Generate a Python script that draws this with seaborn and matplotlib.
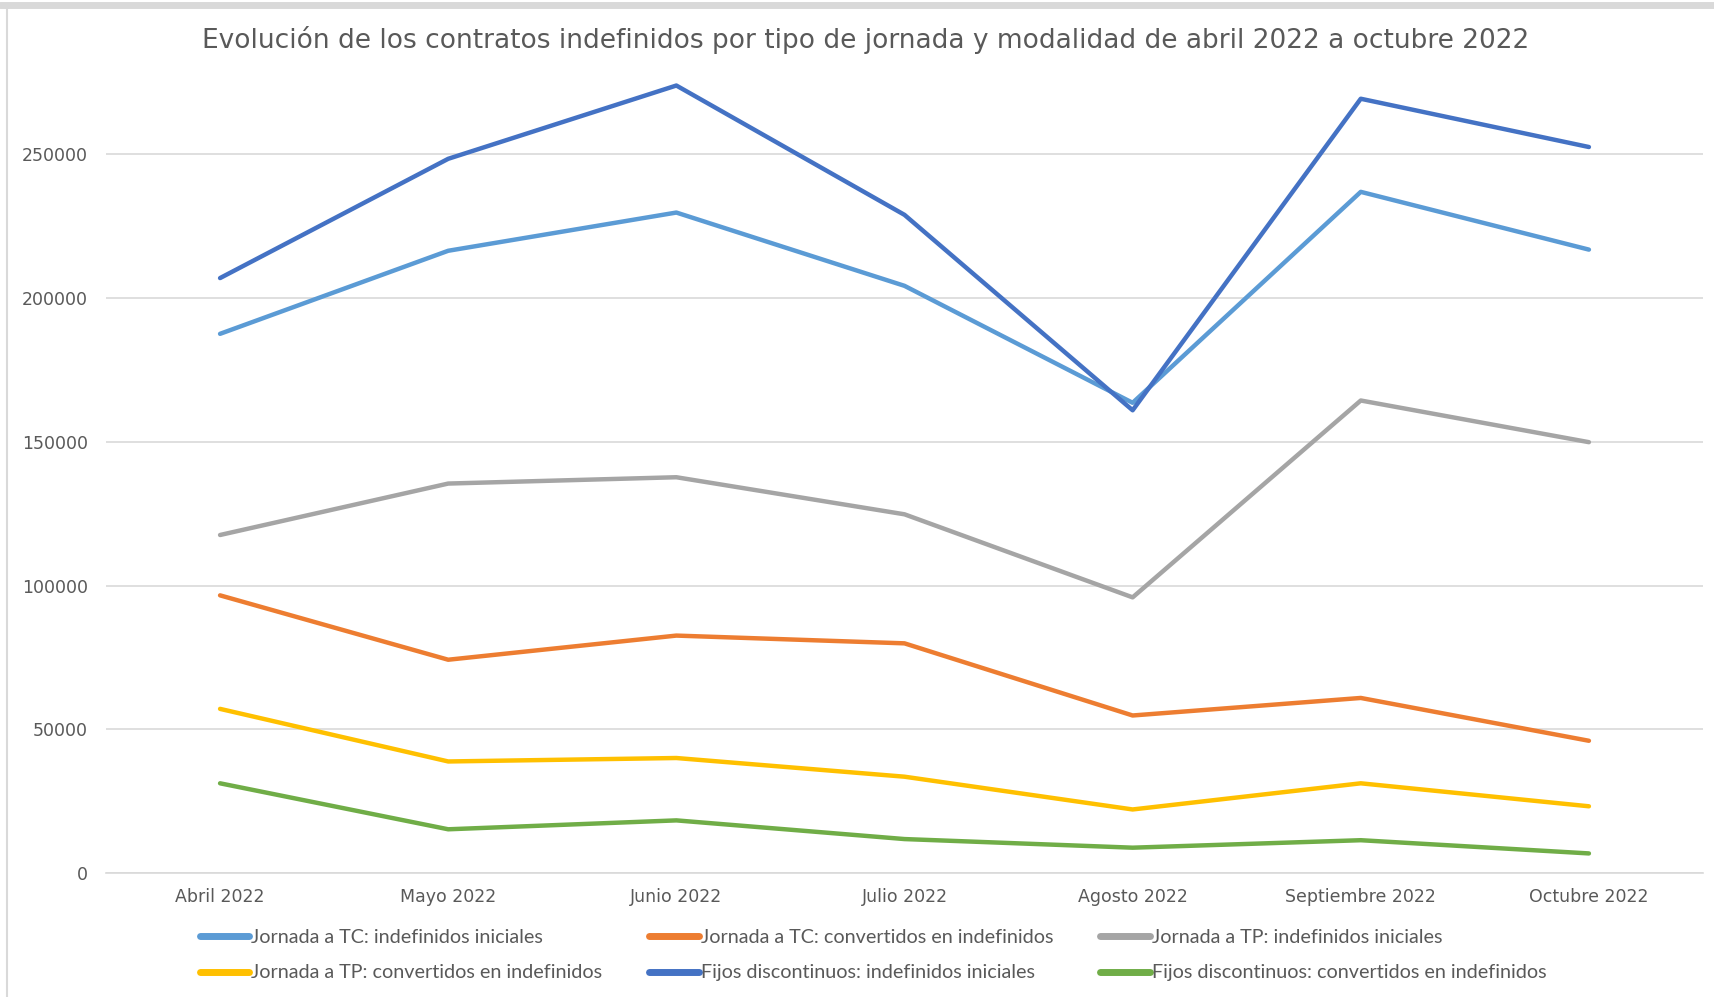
import pandas as pd
import seaborn as sns
import matplotlib.pyplot as plt
import matplotlib

## data
meses = ["Abril 2022", "Mayo 2022", "Junio 2022", "Julio 2022",
         "Agosto 2022", "Septiembre 2022", "Octubre 2022"]

series = [
    "Jornada a TC: indefinidos iniciales",
    "Jornada a TC: convertidos en indefinidos",
    "Jornada a TP: indefinidos iniciales",
    "Jornada a TP: convertidos en indefinidos",
    "Fijos discontinuos: indefinidos iniciales",
    "Fijos discontinuos: convertidos en indefinidos",
]

tc_indef = [187600, 216500, 229800, 204300, 163600, 237000, 216900]
tc_conv = [96600, 74200, 82600, 79900, 54800, 60900, 46000]
tp_indef = [117600, 135500, 137700, 124800, 95900, 164400, 149900]
tp_conv = [57100, 38800, 40000, 33500, 22100, 31200, 23200]
fd_indef = [207000, 248500, 274000, 229000, 161000, 269400, 252600]
fd_conv = [31200, 15200, 18300, 11800, 8800, 11400, 6800]

colores = ["#5B9BD5", "#ED7D31", "#A5A5A5", "#FFC000", "#4472C4", "#70AD47"]

titulo = ("Evolución de los contratos indefinidos por tipo de jornada "
          "y modalidad de abril 2022 a octubre 2022")

## long format for seaborn
valores = [tc_indef, tc_conv, tp_indef, tp_conv, fd_indef, fd_conv]
df = pd.concat(
    [pd.DataFrame({"mes": meses, "valor": v, "serie": s}) for s, v in zip(series, valores)],
    ignore_index=True,
)

sns.set_theme(style="white")
plt.rcParams["font.family"] = ["DejaVu Sans"]

fig = plt.figure(figsize=(17.15, 9.97), dpi=100)
ax = fig.add_axes([0.0618, 0.1244, 0.9312, 0.81])

sns.lineplot(data=df, x="mes", y="valor", hue="serie", hue_order=series,
             palette=colores, linewidth=3.2, sort=False, ax=ax, legend=False)

ax.set_xlim(-0.5, 6.5)
ax.set_ylim(0, 281000)
ax.set_yticks([0, 50000, 100000, 150000, 200000, 250000])
ax.yaxis.set_major_formatter(matplotlib.ticker.FuncFormatter(lambda v, p: f"{int(v)}"))
ax.grid(axis="y", color="#D9D9D9", linewidth=1.2)
ax.set_axisbelow(True)
for s in ["top", "left", "right"]:
    ax.spines[s].set_visible(False)
ax.spines["bottom"].set_color("#D9D9D9")
ax.spines["bottom"].set_linewidth(1.2)
ax.tick_params(axis="both", length=0, labelsize=12.5, labelcolor="#595959")
ax.tick_params(axis="y", pad=13)
ax.tick_params(axis="x", pad=11)
ax.set_xlabel("")
ax.set_ylabel("")

fig.text(0.505, 0.96, titulo, ha="center", va="center", fontsize=19.0, color="#595959")

## legend, row by row like the original
handles = [matplotlib.lines.Line2D([], [], color=c, linewidth=5) for c in colores]
orden = [0, 3, 1, 4, 2, 5]
fig.legend([handles[i] for i in orden], [series[i] for i in orden],
           loc="center", bbox_to_anchor=(0.509, 0.042), ncol=3, frameon=False,
           prop={"family": "Lato", "size": 14.2},
           labelcolor="#595959", handlelength=2.5, handletextpad=0.1,
           columnspacing=2.4, labelspacing=0.95)

## light frame on the left and top, as in the screenshot
fig.add_artist(matplotlib.lines.Line2D([0.004, 0.004], [0, 0.995], transform=fig.transFigure,
                                       color="#D9D9D9", linewidth=1.5))
fig.add_artist(matplotlib.lines.Line2D([0, 1], [0.995, 0.995], transform=fig.transFigure,
                                       color="#D9D9D9", linewidth=5))

plt.savefig("out.png", dpi=100)
